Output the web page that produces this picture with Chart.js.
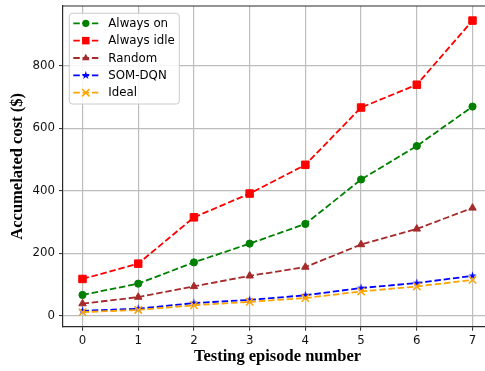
<!DOCTYPE html>
<html>
<head>
<meta charset="utf-8">
<script src="https://cdn.jsdelivr.net/npm/chart.js@4.4.1/dist/chart.umd.min.js"></script>
<style>
  html, body { margin: 0; padding: 0; background: #ffffff; overflow: hidden; }
  #wrap { width: 485px; height: 371px; overflow: hidden; }
  #c { display: block; }
</style>
</head>
<body>
<div id="wrap"><canvas id="c" width="492" height="371"></canvas></div>
<script>
// Accumulated cost per testing episode for each policy
const episodes = [0, 1, 2, 3, 4, 5, 6, 7];
const alwaysOn = [67, 103, 171, 231, 294, 436, 543, 669];
const alwaysIdle = [118, 167, 315, 391, 483, 666, 739, 944];
const randomPolicy = [39, 60, 94, 128, 156, 228, 278, 345];
const somDqn = [16, 23, 41, 51, 66, 89, 105, 128];
const ideal = [12, 19, 34, 45, 57, 78, 94, 115];
const xTicks = [0, 1, 2, 3, 4, 5, 6, 7];
const yTicks = [0, 200, 400, 600, 800];
const seriesNames = ['Always on', 'Always idle', 'Random', 'SOM-DQN', 'Ideal'];

const TICK_FONT = { family: '"DejaVu Sans", sans-serif', size: 11.8 };
const TITLE_FONT = { family: '"Liberation Serif", "Times New Roman", serif', size: 16.5, weight: 'bold' };
const DASH = [6.5, 2.8];
const SPINE = '#2a2a2a';

// filled five-pointed star marker
function starImage(color, outer) {
  const s = Math.ceil(outer * 2 + 2);
  const c = document.createElement('canvas');
  c.width = s; c.height = s;
  const g = c.getContext('2d');
  drawStar(g, s / 2, s / 2, outer, color);
  return c;
}
function drawStar(g, cx, cy, outer, color) {
  const inner = outer * 0.382;
  g.fillStyle = color;
  g.beginPath();
  for (let i = 0; i < 10; i++) {
    const r = i % 2 === 0 ? outer : inner;
    const a = -Math.PI / 2 + i * Math.PI / 5;
    const px = cx + r * Math.cos(a), py = cy + r * Math.sin(a);
    if (i === 0) g.moveTo(px, py); else g.lineTo(px, py);
  }
  g.closePath();
  g.fill();
}

const markers = [
  { style: 'circle', radius: 3.6, color: '#008000' },
  { style: 'rect', radius: 5.3, color: '#ff0000' },
  { style: 'triangle', radius: 4.3, color: '#a52a2a' },
  { style: 'star', radius: 4.4, color: '#0000ff' },
  { style: 'crossRot', radius: 5.2, color: '#ffa500' }
];
const seriesValues = [alwaysOn, alwaysIdle, randomPolicy, somDqn, ideal];

const datasets = seriesNames.map((name, i) => {
  const m = markers[i];
  return {
    label: name,
    data: episodes.map((x, k) => ({ x: x, y: seriesValues[i][k] })),
    borderColor: m.color,
    backgroundColor: m.color,
    borderWidth: 1.8,
    borderDash: DASH,
    fill: false,
    tension: 0,
    pointStyle: m.style === 'star' ? starImage(m.color, m.radius) : m.style,
    pointRadius: m.radius,
    pointBorderWidth: m.style === 'crossRot' ? 1.5 : 1,
    pointBorderColor: m.color,
    pointBackgroundColor: m.color,
    order: 5 - i
  };
});

function drawMarker(ctx, m, x, y) {
  ctx.save();
  ctx.fillStyle = m.color;
  ctx.strokeStyle = m.color;
  ctx.setLineDash([]);
  ctx.beginPath();
  if (m.style === 'circle') {
    ctx.arc(x, y, m.radius, 0, Math.PI * 2);
    ctx.fill();
  } else if (m.style === 'rect') {
    const s = Math.SQRT1_2 * m.radius;
    ctx.rect(x - s, y - s, 2 * s, 2 * s);
    ctx.fill();
  } else if (m.style === 'triangle') {
    let a = 0;
    for (let k = 0; k < 3; k++) {
      const px = x + Math.sin(a) * m.radius, py = y - Math.cos(a) * m.radius;
      if (k === 0) ctx.moveTo(px, py); else ctx.lineTo(px, py);
      a += Math.PI * 2 / 3;
    }
    ctx.closePath();
    ctx.fill();
  } else if (m.style === 'star') {
    drawStar(ctx, x, y, m.radius, m.color);
  } else if (m.style === 'crossRot') {
    const d = Math.SQRT1_2 * m.radius;
    ctx.lineWidth = 1.5;
    ctx.moveTo(x - d, y - d); ctx.lineTo(x + d, y + d);
    ctx.moveTo(x - d, y + d); ctx.lineTo(x + d, y - d);
    ctx.stroke();
  }
  ctx.restore();
}

// legend box in the upper-left corner of the plot, plus the top frame line
const plotExtras = {
  id: 'plotExtras',
  afterDatasetsDraw(chart) {
    const ctx = chart.ctx;
    const a = chart.chartArea;
    ctx.save();
    // top frame line
    ctx.strokeStyle = SPINE;
    ctx.lineWidth = 1.2;
    ctx.beginPath();
    ctx.moveTo(a.left, a.top);
    ctx.lineTo(a.right, a.top);
    ctx.stroke();

    const x0 = a.left + 6.3, y0 = a.top + 7.3, w = 110, h = 90.7, r = 3;
    ctx.beginPath();
    ctx.moveTo(x0 + r, y0);
    ctx.lineTo(x0 + w - r, y0);
    ctx.arcTo(x0 + w, y0, x0 + w, y0 + r, r);
    ctx.lineTo(x0 + w, y0 + h - r);
    ctx.arcTo(x0 + w, y0 + h, x0 + w - r, y0 + h, r);
    ctx.lineTo(x0 + r, y0 + h);
    ctx.arcTo(x0, y0 + h, x0, y0 + h - r, r);
    ctx.lineTo(x0, y0 + r);
    ctx.arcTo(x0, y0, x0 + r, y0, r);
    ctx.closePath();
    ctx.fillStyle = 'rgba(255,255,255,0.85)';
    ctx.fill();
    ctx.strokeStyle = '#cccccc';
    ctx.lineWidth = 1;
    ctx.stroke();

    chart.data.datasets.forEach((ds, i) => {
      const yy = y0 + 10 + i * 17.35;
      const m = markers[i];
      ctx.save();
      ctx.strokeStyle = m.color;
      ctx.lineWidth = 1.8;
      ctx.setLineDash(DASH);
      ctx.beginPath();
      ctx.moveTo(x0 + 4, yy);
      ctx.lineTo(x0 + 29, yy);
      ctx.stroke();
      ctx.restore();
      drawMarker(ctx, m, x0 + 16.5, yy);
      ctx.fillStyle = '#000000';
      ctx.font = '11.8px "DejaVu Sans", sans-serif';
      ctx.textBaseline = 'middle';
      ctx.textAlign = 'left';
      ctx.fillText(ds.label, x0 + 39, yy + 0.5);
    });
    ctx.restore();
  }
};

new Chart(document.getElementById('c'), {
  type: 'line',
  data: { datasets: datasets },
  options: {
    responsive: false,
    animation: false,
    devicePixelRatio: 1,
    layout: { autoPadding: false, padding: { top: 6, right: 0, left: 0, bottom: 0 } },
    plugins: { legend: { display: false }, tooltip: { enabled: false } },
    scales: {
      x: {
        type: 'linear',
        min: -0.35,
        max: 7.35,
        afterBuildTicks: (s) => { s.ticks = xTicks.map(v => ({ value: v })); },
        afterFit: (s) => { s.height = 44.3; s.paddingLeft = 0; s.paddingRight = 0; },
        grid: { color: '#bdbdbd', lineWidth: 1.2, tickColor: SPINE, tickLength: 4, tickWidth: 1 },
        border: { color: SPINE, width: 1.2 },
        ticks: { font: TICK_FONT, color: '#111111', padding: 3, maxRotation: 0 },
        title: { display: true, text: 'Testing episode number', font: TITLE_FONT, color: '#000000', padding: { top: 0, bottom: 4 } }
      },
      y: {
        type: 'linear',
        min: -34.6,
        max: 990.6,
        afterBuildTicks: (s) => { s.ticks = yTicks.map(v => ({ value: v })); },
        afterFit: (s) => { s.width = 63; s.paddingTop = 0; s.paddingBottom = 0; },
        grid: { color: '#bdbdbd', lineWidth: 1.2, tickColor: SPINE, tickLength: 4, tickWidth: 1 },
        border: { color: SPINE, width: 1.2 },
        ticks: { font: TICK_FONT, color: '#111111', padding: 4 },
        title: { display: true, text: 'Accumelated cost ($)', font: TITLE_FONT, color: '#000000', padding: { top: 8, bottom: 0 } }
      }
    }
  },
  plugins: [plotExtras]
});
</script>
</body>
</html>
